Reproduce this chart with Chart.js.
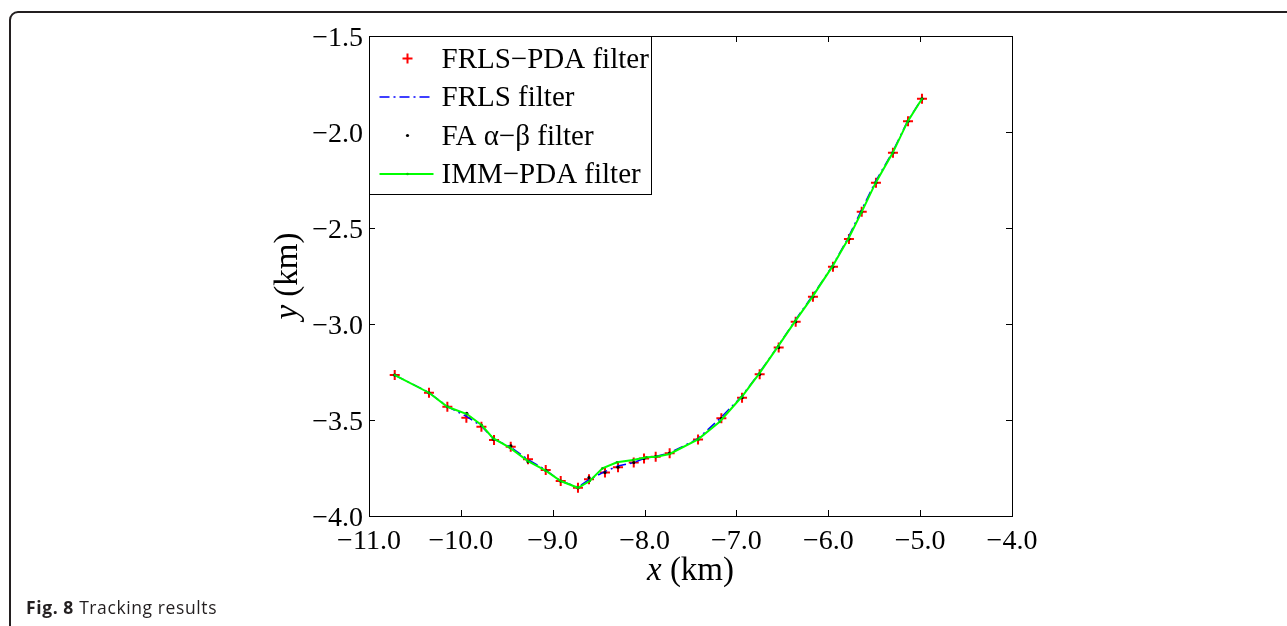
<!DOCTYPE html>
<html>
<head>
<meta charset="utf-8">
<script src="https://cdn.jsdelivr.net/npm/chart.js@4.4.1/dist/chart.umd.min.js"></script>
<style>
    body { margin: 0; background: #fff; overflow: hidden; }
    #frame { position: absolute; left: 9px; top: 11px; width: 1400px; height: 800px;
             border: 2px solid #231f20; border-radius: 9px; }
    #fileChart { position: absolute; left: 0; top: 0; }
    #caption { position: absolute; left: 26px; top: 597px; font-family: "Open Sans", sans-serif;
               font-size: 17.5px; letter-spacing: 0.6px; line-height: 20px; color: #231f20; }
</style>
</head>
<body>
<div id="frame"></div>
<canvas id="fileChart" width="1287" height="626"></canvas>
<div id="caption"><b>Fig. 8</b> Tracking results</div>
<script>
const xTicks = [-11, -10, -9, -8, -7, -6, -5, -4];
const yTicks = [-4.0, -3.5, -3.0, -2.5, -2.0, -1.5];
const seriesNames = ["FRLS\u2212PDA filter", "FRLS filter", "FA \u03b1\u2212\u03b2 filter", "IMM\u2212PDA filter"];

const frlsPdaX = [-10.720, -10.347, -10.147, -9.940, -9.776, -9.639, -9.457, -9.269, -9.076, -8.913, -8.725, -8.605, -8.431, -8.289, -8.118, -8.006, -7.879, -7.727, -7.418, -7.164, -6.939, -6.747, -6.540, -6.355, -6.167, -5.949, -5.775, -5.636, -5.481, -5.296, -5.132, -4.980];
const frlsPdaY = [-3.266, -3.358, -3.431, -3.488, -3.535, -3.604, -3.639, -3.705, -3.760, -3.818, -3.853, -3.809, -3.774, -3.746, -3.722, -3.700, -3.691, -3.673, -3.601, -3.491, -3.384, -3.262, -3.123, -2.988, -2.858, -2.702, -2.557, -2.415, -2.264, -2.108, -1.944, -1.827];

const frlsX = [-10.720, -10.347, -10.147, -9.945, -9.780, -9.640, -9.460, -9.270, -9.078, -8.913, -8.725, -8.610, -8.440, -8.290, -8.120, -8.000, -7.880, -7.730, -7.420, -7.170, -6.945, -6.752, -6.548, -6.362, -6.172, -5.955, -5.785, -5.642, -5.488, -5.300, -5.136, -4.980];
const frlsY = [-3.266, -3.357, -3.430, -3.480, -3.530, -3.600, -3.640, -3.706, -3.760, -3.818, -3.850, -3.812, -3.770, -3.740, -3.722, -3.700, -3.690, -3.672, -3.598, -3.488, -3.378, -3.255, -3.115, -2.982, -2.852, -2.698, -2.552, -2.410, -2.260, -2.104, -1.942, -1.827];

const faX = [-10.720, -10.347, -10.147, -9.936, -9.776, -9.645, -9.455, -9.269, -9.076, -8.913, -8.725, -8.605, -8.431, -8.289, -8.118, -8.006, -7.879, -7.727, -7.418, -7.164, -6.939, -6.747, -6.540, -6.355, -6.167, -5.949, -5.775, -5.636, -5.481, -5.296, -5.132, -4.980];
const faY = [-3.266, -3.358, -3.431, -3.465, -3.528, -3.600, -3.635, -3.717, -3.762, -3.818, -3.853, -3.800, -3.774, -3.746, -3.722, -3.700, -3.691, -3.673, -3.601, -3.491, -3.384, -3.262, -3.123, -2.988, -2.858, -2.702, -2.557, -2.415, -2.264, -2.108, -1.944, -1.827];

const immX = [-10.720, -10.347, -10.147, -9.934, -9.776, -9.650, -9.468, -9.269, -9.076, -8.913, -8.725, -8.597, -8.459, -8.300, -8.126, -7.980, -7.871, -7.727, -7.418, -7.182, -6.935, -6.750, -6.545, -6.360, -6.175, -5.955, -5.780, -5.640, -5.485, -5.300, -5.135, -4.980];
const immY = [-3.266, -3.358, -3.431, -3.469, -3.526, -3.595, -3.644, -3.714, -3.764, -3.818, -3.853, -3.818, -3.752, -3.720, -3.708, -3.694, -3.691, -3.677, -3.601, -3.509, -3.375, -3.257, -3.115, -2.985, -2.860, -2.700, -2.555, -2.420, -2.265, -2.110, -1.945, -1.827];

const toPoints = (xs, ys) => xs.map((x, i) => ({ x: x, y: ys[i] }));
const fmt = v => (v < 0 ? "\u2212" : "") + Math.abs(v).toFixed(1);
const serif = "'Liberation Serif', 'Times New Roman', serif";

// box around the axes with inward ticks on all four sides
const axesBox = {
    id: "axesBox",
    afterDraw(chart) {
        const ctx = chart.ctx, a = chart.chartArea;
        const xs = chart.scales.x, ys = chart.scales.y;
        ctx.save();
        ctx.strokeStyle = "#000";
        ctx.lineWidth = 1;
        ctx.strokeRect(Math.round(a.left) + 0.5, Math.round(a.top) + 0.5,
            Math.round(a.right - a.left), Math.round(a.bottom - a.top));
        ctx.beginPath();
        xTicks.forEach(v => {
            const px = Math.round(xs.getPixelForValue(v)) + 0.5;
            ctx.moveTo(px, a.bottom); ctx.lineTo(px, a.bottom - 6);
            ctx.moveTo(px, a.top); ctx.lineTo(px, a.top + 6);
        });
        yTicks.forEach(v => {
            const py = Math.round(ys.getPixelForValue(v)) + 0.5;
            ctx.moveTo(a.left, py); ctx.lineTo(a.left + 6, py);
            ctx.moveTo(a.right, py); ctx.lineTo(a.right - 6, py);
        });
        ctx.stroke();

        // axis titles with italic variable names
        const drawTitle = (varName, cx, cy, rot) => {
            ctx.save();
            ctx.translate(cx, cy);
            ctx.rotate(rot);
            ctx.fillStyle = "#000";
            ctx.textBaseline = "alphabetic";
            ctx.font = "italic 33px " + serif;
            const w1 = ctx.measureText(varName).width;
            ctx.font = "33px " + serif;
            const w2 = ctx.measureText(" (km)").width;
            const start = -(w1 + w2) / 2;
            ctx.font = "italic 33px " + serif;
            ctx.textAlign = "left";
            ctx.fillText(varName, start, 0);
            ctx.font = "33px " + serif;
            ctx.fillText(" (km)", start + w1, 0);
            ctx.restore();
        };
        drawTitle("x", (a.left + a.right) / 2, 580, 0);
        drawTitle("y", 297, (a.top + a.bottom) / 2, -Math.PI / 2);

        // legend box in the upper left corner
        const lx = Math.round(a.left) + 0.5, ly = Math.round(a.top) + 0.5;
        ctx.fillStyle = "#fff";
        ctx.fillRect(lx, ly, 282, 158);
        ctx.strokeRect(lx, ly, 282, 158);
        const sx = lx + 38, rowY = i => ly + 22 + i * 38.5;
        ctx.lineWidth = 2;
        ctx.strokeStyle = "rgb(255,0,0)";
        ctx.beginPath();
        ctx.moveTo(sx - 5, rowY(0)); ctx.lineTo(sx + 5, rowY(0));
        ctx.moveTo(sx, rowY(0) - 5); ctx.lineTo(sx, rowY(0) + 5);
        ctx.stroke();
        ctx.strokeStyle = "rgb(0,0,255)";
        ctx.lineWidth = 1.5;
        ctx.setLineDash([10, 4, 2, 4]);
        ctx.beginPath();
        ctx.moveTo(sx - 28, rowY(1)); ctx.lineTo(sx + 26, rowY(1));
        ctx.stroke();
        ctx.setLineDash([]);
        ctx.fillStyle = "#000";
        ctx.beginPath();
        ctx.arc(sx, rowY(2), 1.6, 0, Math.PI * 2);
        ctx.fill();
        ctx.strokeStyle = "rgb(0,255,0)";
        ctx.lineWidth = 2;
        ctx.beginPath();
        ctx.moveTo(sx - 28, rowY(3)); ctx.lineTo(sx + 26, rowY(3));
        ctx.stroke();
        ctx.fillStyle = "rgb(0,200,0)";
        ctx.beginPath();
        ctx.arc(sx, rowY(3), 1.3, 0, Math.PI * 2);
        ctx.fill();
        ctx.fillStyle = "#000";
        ctx.font = "29px " + serif;
        ctx.textAlign = "left";
        ctx.textBaseline = "alphabetic";
        seriesNames.forEach((name, i) => ctx.fillText(name, lx + 72, rowY(i) + 9));
        ctx.restore();
    }
};

const ctx = document.getElementById("fileChart").getContext("2d");
window.fileChart = new Chart(ctx, {
    type: "scatter",
    data: {
        datasets: [
            {
                label: seriesNames[0],
                data: toPoints(frlsPdaX, frlsPdaY),
                showLine: false,
                pointStyle: "cross",
                pointRadius: 5,
                borderColor: "rgb(255,0,0)",
                pointBorderWidth: 2,
                order: 4
            },
            {
                label: seriesNames[1],
                data: toPoints(frlsX, frlsY),
                showLine: true,
                borderColor: "rgb(0,0,255)",
                borderWidth: 1.5,
                borderDash: [10, 4, 2, 4],
                pointRadius: 0,
                order: 3
            },
            {
                label: seriesNames[2],
                data: toPoints(faX, faY),
                showLine: false,
                pointStyle: "circle",
                pointRadius: 1.6,
                backgroundColor: "#000",
                borderColor: "#000",
                pointBorderWidth: 0,
                order: 2
            },
            {
                label: seriesNames[3],
                data: toPoints(immX, immY),
                showLine: true,
                borderColor: "rgb(0,255,0)",
                backgroundColor: "rgb(0,200,0)",
                borderWidth: 2,
                pointRadius: 1.3,
                pointBorderWidth: 0,
                order: 1
            }
        ]
    },
    options: {
        responsive: false,
        animation: false,
        devicePixelRatio: 1,
        layout: { padding: { left: 0, top: 36, right: 275, bottom: 0 } },
        plugins: { legend: { display: false }, tooltip: { enabled: false } },
        scales: {
            x: {
                type: "linear",
                min: -11, max: -4,
                afterFit: s => { s.height = 110; },
                afterBuildTicks: s => { s.ticks = xTicks.map(v => ({ value: v })); },
                grid: { display: false, drawTicks: false },
                border: { display: false },
                ticks: { callback: fmt, color: "#000", padding: 9, maxRotation: 0,
                         font: { family: serif, size: 28 } }
            },
            y: {
                type: "linear",
                min: -4, max: -1.5,
                afterFit: s => { s.width = 369; },
                afterBuildTicks: s => { s.ticks = yTicks.map(v => ({ value: v })); },
                grid: { display: false, drawTicks: false },
                border: { display: false },
                ticks: { callback: fmt, color: "#000", padding: 6, labelOffset: 3,
                         font: { family: serif, size: 28 } }
            }
        }
    },
    plugins: [axesBox]
});
</script>
</body>
</html>
